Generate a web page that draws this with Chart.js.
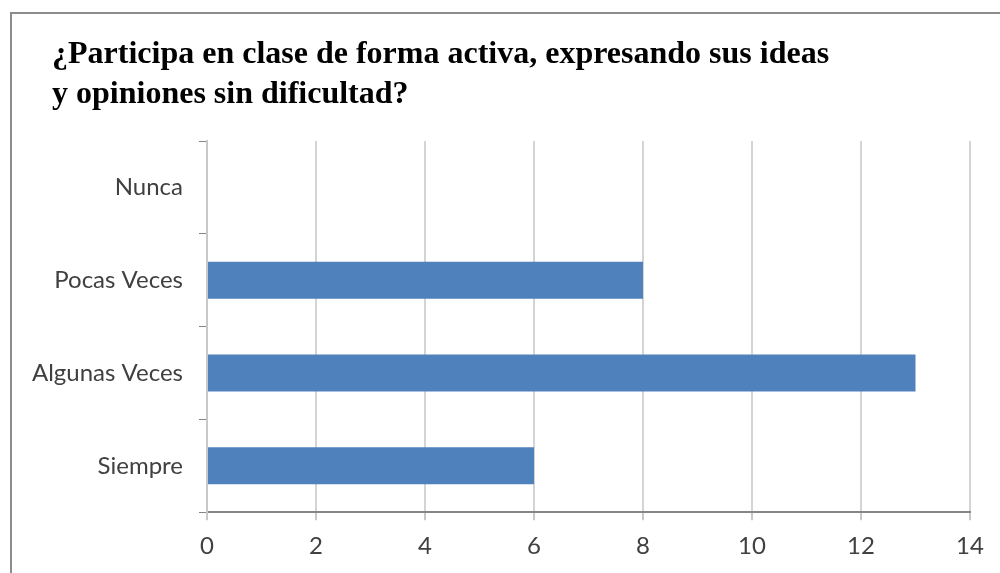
<!DOCTYPE html>
<html>
<head>
<meta charset="utf-8">
<script src="https://cdn.jsdelivr.net/npm/chart.js@4"></script>
<style>
  html, body { margin: 0; padding: 0; background: #fff; }
  #wrap { position: relative; width: 1000px; height: 573px; overflow: hidden; }
  #frame { position: absolute; left: 10px; top: 12px; width: 1100px; height: 700px;
           border: 2px solid #8c8c8c; box-sizing: border-box; }
  canvas { position: absolute; left: 0; top: 0; }
</style>
</head>
<body>
<div id="wrap">
  <div id="frame"></div>
  <canvas id="chart" width="1000" height="573"></canvas>
</div>
<script>
// categories top to bottom
const categories = ['Nunca', 'Pocas Veces', 'Algunas Veces', 'Siempre'];
const values = [0, 8, 13, 6];
const titleLines = ['¿Participa en clase de forma activa, expresando sus ideas', 'y opiniones sin dificultad?'];

// title drawn by hand so it can sit left of the y labels
const titlePlugin = {
    id: 'leftTitle',
    afterDraw(chart) {
        const c = chart.ctx;
        c.save();
        c.fillStyle = '#000';
        c.font = 'bold 32px "Liberation Serif"';
        c.textAlign = 'left';
        c.textBaseline = 'middle';
        titleLines.forEach((line, i) => c.fillText(line, 52, 55 + i * 40));
        c.restore();
    }
};

const ctx = document.getElementById('chart').getContext('2d');
new Chart(ctx, {
    type: 'bar',
    data: {
        labels: categories,
        datasets: [{
            data: values,
            backgroundColor: '#4f81bd',
            borderWidth: 0,
            barPercentage: 0.4,
            categoryPercentage: 1.0
        }]
    },
    options: {
        indexAxis: 'y',
        responsive: false,
        animation: false,
        layout: {
            padding: { left: 20, right: 30, top: 141, bottom: 0 }
        },
        plugins: {
            legend: { display: false },
            tooltip: { enabled: false },
            title: { display: false }
        },
        scales: {
            x: {
                min: 0,
                max: 14,
                ticks: {
                    stepSize: 2,
                    color: '#404040',
                    padding: 12,
                    font: { family: 'Lato', size: 24 }
                },
                grid: {
                    color: '#d4d4d4',
                    lineWidth: 2,
                    tickLength: 8,
                    tickColor: '#c8c8c8'
                },
                border: { color: '#868686', width: 2 }
            },
            y: {
                afterFit: scale => { scale.width = 187; },
                ticks: {
                    color: '#404040',
                    padding: 16,
                    font: { family: 'Lato', size: 24 }
                },
                grid: {
                    offset: true,
                    drawOnChartArea: false,
                    tickLength: 8,
                    tickColor: '#868686'
                },
                border: { color: '#c8c8c8', width: 2 }
            }
        }
    },
    plugins: [titlePlugin]
});
</script>
</body>
</html>
